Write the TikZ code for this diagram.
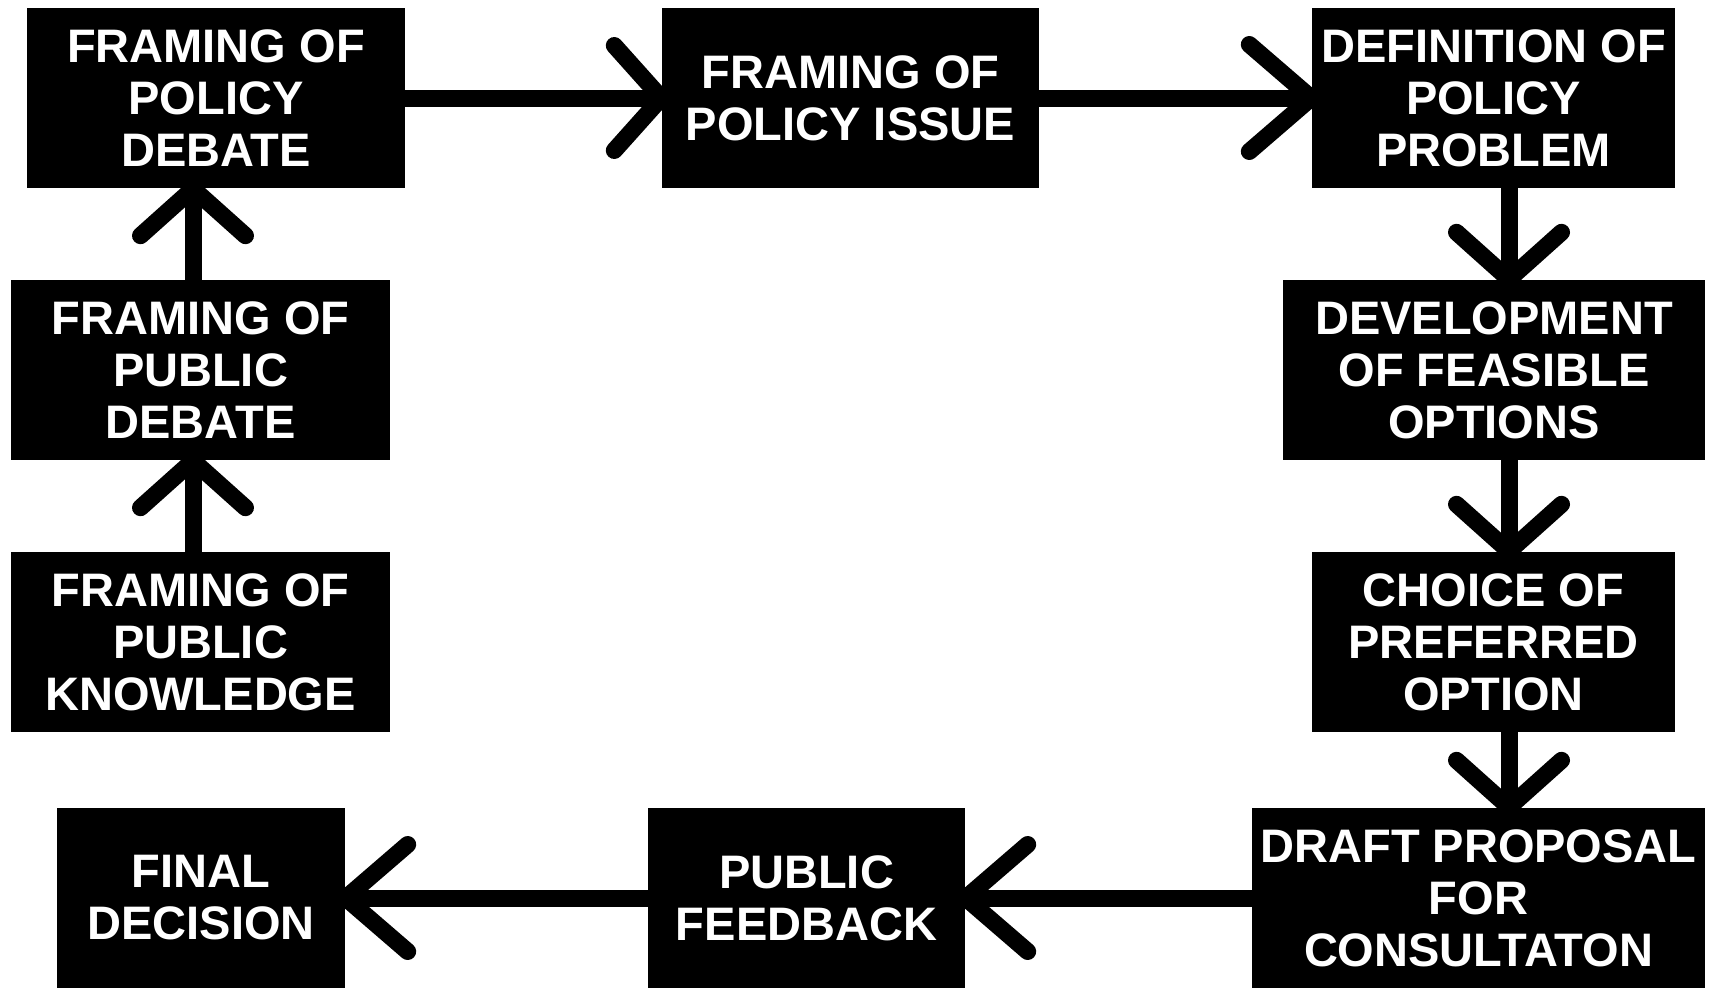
\documentclass[tikz,border=0pt]{standalone}
\usepackage{fontspec}
\setmainfont{Liberation Sans}
\usetikzlibrary{arrows.meta}
\tikzset{
  box/.style={fill=black, text=white, inner sep=0pt, align=center,
    minimum height=180pt, font=\fontsize{47}{52}\selectfont\bfseries},
  conn/.style={line width=17pt, draw=black, shorten >=-8pt},
  shorthead/.style={conn, -{Straight Barb[length=47pt, width=105pt, round]}},
  longhead/.style={conn, -{Straight Barb[length=62pt, width=107pt, round]}},
}
\begin{document}
\begin{tikzpicture}[x=1pt, y=-1pt]
\useasboundingbox (0,0) rectangle (1713,988);
\node[box, minimum width=378pt] (A) at (216,98) {FRAMING OF\\POLICY\\DEBATE};
\node[box, minimum width=377pt] (B) at (850.5,98) {FRAMING OF\\POLICY ISSUE};
\node[box, minimum width=363pt] (C) at (1493.5,98) {DEFINITION OF\\POLICY\\PROBLEM};
\node[box, minimum width=422pt] (D) at (1494,370) {DEVELOPMENT\\OF FEASIBLE\\OPTIONS};
\node[box, minimum width=363pt] (E) at (1493.5,642) {CHOICE OF\\PREFERRED\\OPTION};
\node[box, minimum width=453pt] (F) at (1478.5,898) {DRAFT PROPOSAL\\FOR\\CONSULTATON};
\node[box, minimum width=317pt] (G) at (806.5,898) {PUBLIC\\FEEDBACK};
\node[box, minimum width=288pt] (H) at (201,898) {FINAL\\DECISION};
\node[box, minimum width=379pt] (I) at (200.5,370) {FRAMING OF\\PUBLIC\\DEBATE};
\node[box, minimum width=379pt] (J) at (200.5,642) {FRAMING OF\\PUBLIC\\KNOWLEDGE};
\coordinate (lx) at (193,0);
\coordinate (rx) at (1509,0);
\draw[shorthead] (A.east) -- (B.west);
\draw[longhead] (B.east) -- (C.west);
\draw[shorthead] (C.south -| rx) -- (D.north -| rx);
\draw[shorthead] (D.south -| rx) -- (E.north -| rx);
\draw[shorthead] (E.south -| rx) -- (F.north -| rx);
\draw[longhead] (F.west) -- (G.east);
\draw[longhead] (G.west) -- (H.east);
\draw[shorthead] (J.north -| lx) -- (I.south -| lx);
\draw[shorthead] (I.north -| lx) -- (A.south -| lx);
\end{tikzpicture}
\end{document}
